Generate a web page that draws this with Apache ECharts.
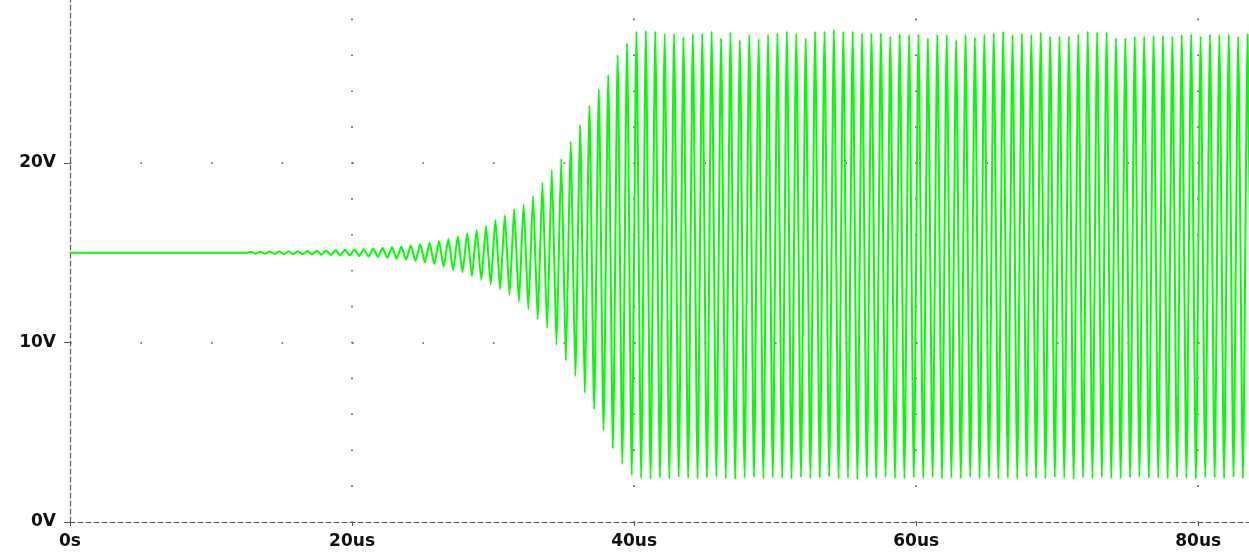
<!DOCTYPE html>
<html><head><meta charset="utf-8">
<script src="https://cdn.jsdelivr.net/npm/echarts@6/dist/echarts.min.js"></script>
<style>html,body{margin:0;padding:0;background:#fff}#c{width:1249px;height:553px}</style>
</head><body><div id="c"></div>
<script>
// tick values and labels
const xTickValues = [0, 20, 40, 60, 80];
const xTickLabels = ['0s', '20us', '40us', '60us', '80us'];
const yTickValues = [0, 10, 20];
const yTickLabels = ['0V', '10V', '20V'];

// waveform: flat DC start, then successive peaks / troughs (volts)
const flatStart = [[0, 15], [12.5, 15]];
const firstPeakUs = 12.83;   // time of first listed peak (us)
const periodUs = 0.6667;     // oscillation period (us)
const peakVolts = [
  15.06,15.06,15.07,15.08,15.08,15.09,15.10,15.11,15.12,15.14,15.16,15.18,15.20,15.23,15.26,15.30,15.35,15.40,15.47,15.55,15.65,
  15.77,15.90,16.08,16.27,16.49,16.82,17.07,17.44,17.70,18.16,18.90,19.61,20.24,21.19,22.12,23.19,24.10,24.90,26.02,26.67,
  27.32,27.37,27.32,27.19,27.19,27.00,27.19,27.22,27.32,26.95,27.28,26.85,27.13,26.91,27.13,27.22,27.32,27.19,26.95,27.32,27.32,27.41,27.32,27.32,27.22,27.22,27.22,27.04,27.17,27.13,27.17,26.95,27.13,
  27.13,26.85,27.13,26.99,27.13,27.22,27.32,27.13,27.22,27.13,27.28,27.04,27.04,27.04,27.17,27.32,27.28,27.28,26.95,26.95,27.04,27.04,27.08,27.08,27.04,27.13,27.17,27.04,27.17,27.13,27.17,27.04,27.17
];
const troughVolts = [
  14.94,14.94,14.93,14.92,14.92,14.91,14.90,14.89,14.88,14.86,14.84,14.82,14.79,14.76,14.72,14.67,14.62,14.55,14.47,14.37,14.22,
  14.04,13.91,13.70,13.48,13.24,12.96,12.65,12.27,11.85,11.29,10.79,9.86,8.99,8.13,7.20,6.28,5.13,4.10,3.23,2.62,
  2.45,2.40,2.48,2.43,2.50,2.45,2.42,2.47,2.52,2.44,2.40,2.46,2.50,2.43,2.48,2.45,2.41,2.49,2.44,2.47,2.52,2.43,2.46,2.40,2.48,2.45,2.50,2.44,2.42,2.47,2.45,2.49,2.43,
  2.46,2.42,2.50,2.45,2.48,2.41,2.47,2.44,2.52,2.45,2.43,2.49,2.46,2.40,2.48,2.44,2.50,2.45,2.42,2.47,2.51,2.44,2.46,2.43,2.49,2.45,2.41,2.48,2.46,2.44,2.50,2.43,2.47
];

const wave = flatStart.slice();
for (let i = 0; i < peakVolts.length; i++) {
  wave.push([firstPeakUs + i * periodUs, peakVolts[i]]);
  wave.push([firstPeakUs + (i + 0.5) * periodUs, troughVolts[i]]);
}

const chart = echarts.init(document.getElementById('c'), null, {renderer: 'canvas'});
const axisColor = '#555';
const labelFont = {color: '#111', fontFamily: 'DejaVu Sans', fontWeight: 'bold', fontSize: 17};
chart.setOption({
  animation: false,
  backgroundColor: '#fff',
  grid: {left: 70, right: 0, top: 0, bottom: 31, containLabel: false, outerBoundsMode: 'none'},
  xAxis: {
    type: 'value', min: 0, max: 83.6, interval: 20,
    axisLine: {show: true, onZero: false, lineStyle: {color: axisColor, width: 1.2, type: [5, 3]}},
    axisTick: {show: true, length: 4, customValues: xTickValues, lineStyle: {color: axisColor}},
    axisLabel: Object.assign({customValues: xTickValues, margin: 11,
      formatter: v => { const i = xTickValues.indexOf(v); return i >= 0 ? xTickLabels[i] : ''; }}, labelFont),
    splitLine: {show: true, showMinLine: false,
      lineStyle: {color: '#555', width: 1.6, type: [1.6, 34.3], dashOffset: 17.3}}
  },
  yAxis: {
    type: 'value', min: 0, max: 29.08, interval: 10,
    axisLine: {show: true, onZero: false, lineStyle: {color: axisColor, width: 1.2, type: [5, 3]}},
    axisTick: {show: true, length: 6, customValues: yTickValues, lineStyle: {color: axisColor}},
    axisLabel: Object.assign({customValues: yTickValues, margin: 14,
      formatter: v => { const i = yTickValues.indexOf(v); return i >= 0 ? yTickLabels[i] : ''; }}, labelFont),
    splitLine: {show: true, showMinLine: false,
      lineStyle: {color: '#555', width: 1.6, type: [1.6, 68.9]}}
  },
  series: [{
    type: 'line', data: wave, showSymbol: false, smooth: 0.2,
    lineStyle: {color: '#00ff00', width: 2}, clip: true
  }]
});
</script>
</body></html>
